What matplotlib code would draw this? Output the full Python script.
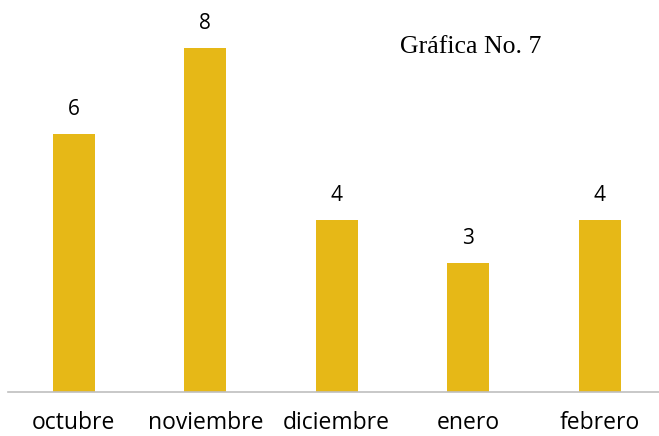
import matplotlib.pyplot as plt
import numpy as np

meses = ['octubre', 'noviembre', 'diciembre', 'enero', 'febrero']
valores = [6, 8, 4, 3, 4]
titulo = 'Gráfica No. 7'

fig = plt.figure(figsize=(6.59, 4.36), dpi=100)
ax = fig.add_axes([8 / 659, 44 / 436, 651 / 659, 387 / 436])

x = np.arange(len(meses))
ax.bar(x, valores, width=0.32, color='#E6B817', zorder=2)
for xi, v in zip(x, valores):
    ax.text(xi, v + 0.33, str(v), ha='center', va='bottom', fontsize=15, family='Open Sans')

ax.set_xlim(-0.5, -0.5 + 651 / 131.5)
ax.set_ylim(0, 9)
ax.set_yticks([])
ax.set_xticks(x)
ax.set_xticklabels(meses, fontsize=16.5, family='Open Sans')
ax.tick_params(axis='x', length=0, pad=14)
for s in ['top', 'right', 'left']:
    ax.spines[s].set_visible(False)
ax.spines['bottom'].set_color('#BFBFBF')
ax.spines['bottom'].set_linewidth(1.2)

fig.text(471 / 659, 1 - 47 / 436, titulo, ha='center', va='center', fontsize=18.5, family='Liberation Serif')

fig.savefig('out.png', dpi=100)
